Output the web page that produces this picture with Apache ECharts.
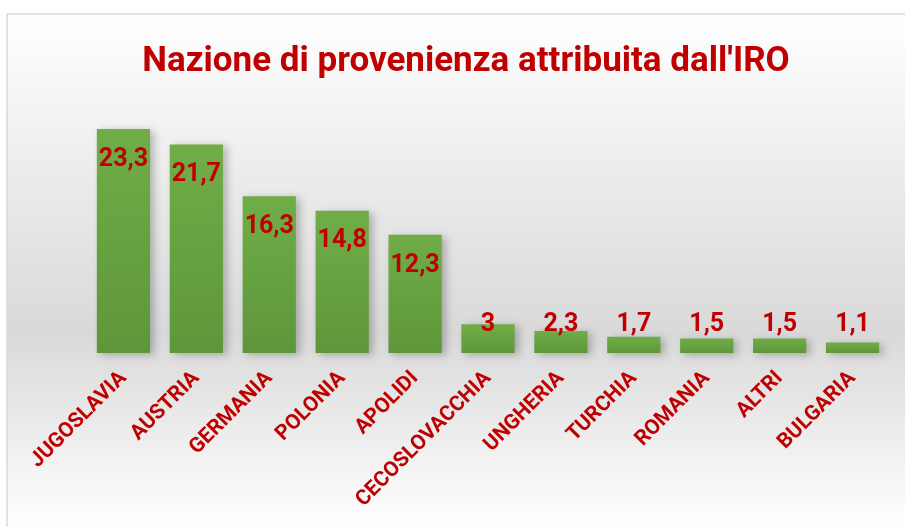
<!DOCTYPE html>
<html><head><meta charset="utf-8">
<script src="https://cdn.jsdelivr.net/npm/echarts@6/dist/echarts.min.js"></script>
<style>html,body{margin:0;padding:0;background:#fff}#c{width:905px;height:527px}</style>
</head><body><div id="c"></div>
<script>
const categories = ['JUGOSLAVIA','AUSTRIA','GERMANIA','POLONIA','APOLIDI','CECOSLOVACCHIA','UNGHERIA','TURCHIA','ROMANIA','ALTRI','BULGARIA'];
const values = [23.3, 21.7, 16.3, 14.8, 12.3, 3, 2.3, 1.7, 1.5, 1.5, 1.1];
const titleText = "Nazione di provenienza attribuita dall'IRO";

const FONT = 'Roboto, "Open Sans", sans-serif';
const RED = '#c00000';
const chart = echarts.init(document.getElementById('c'), null, {renderer: 'canvas'});

const data = values.map(v => ({
  value: v,
  label: v >= 5 ? {position: 'insideTop', distance: 18} : {position: 'insideBottom', distance: 16}
}));

chart.setOption({
  animation: false,
  graphic: [{
    type: 'rect', z: -10, silent: true,
    shape: {x: 7, y: 14, width: 910, height: 530},
    style: {
      stroke: '#d9d9d9', lineWidth: 1.5,
      fill: new echarts.graphic.LinearGradient(0, 0, 0, 1, [
        {offset: 0, color: '#ffffff'},
        {offset: 0.6, color: '#d9d9d9'},
        {offset: 0.97, color: '#ffffff'}
      ])
    }
  }],
  title: {
    text: titleText, left: 461, top: 40, textAlign: 'center',
    textStyle: {fontFamily: FONT, fontSize: 35, fontWeight: 'bold', color: RED}
  },
  grid: {left: 87, right: 16, top: 112.7, height: 240.3, containLabel: false},
  xAxis: {
    type: 'category', data: categories,
    axisLine: {show: false}, axisTick: {show: false},
    axisLabel: {rotate: 45, margin: 22, interval: 0, fontFamily: FONT, fontSize: 21, fontWeight: 'bold', color: RED}
  },
  yAxis: {type: 'value', min: 0, max: 25, show: false, splitLine: {show: false}},
  series: [{
    type: 'bar', data: data, barCategoryGap: '27%',
    itemStyle: {
      color: new echarts.graphic.LinearGradient(0, 0, 0, 1, [
        {offset: 0, color: '#70ad47'},
        {offset: 1, color: '#5e973a'}
      ]),
      shadowColor: 'rgba(0,0,0,0.25)', shadowBlur: 8, shadowOffsetX: 4, shadowOffsetY: 2
    },
    label: {
      show: true, fontFamily: FONT, fontSize: 25, fontWeight: 'bold', color: RED,
      formatter: p => String(p.value).replace('.', ',')
    }
  }]
});
</script></body></html>
